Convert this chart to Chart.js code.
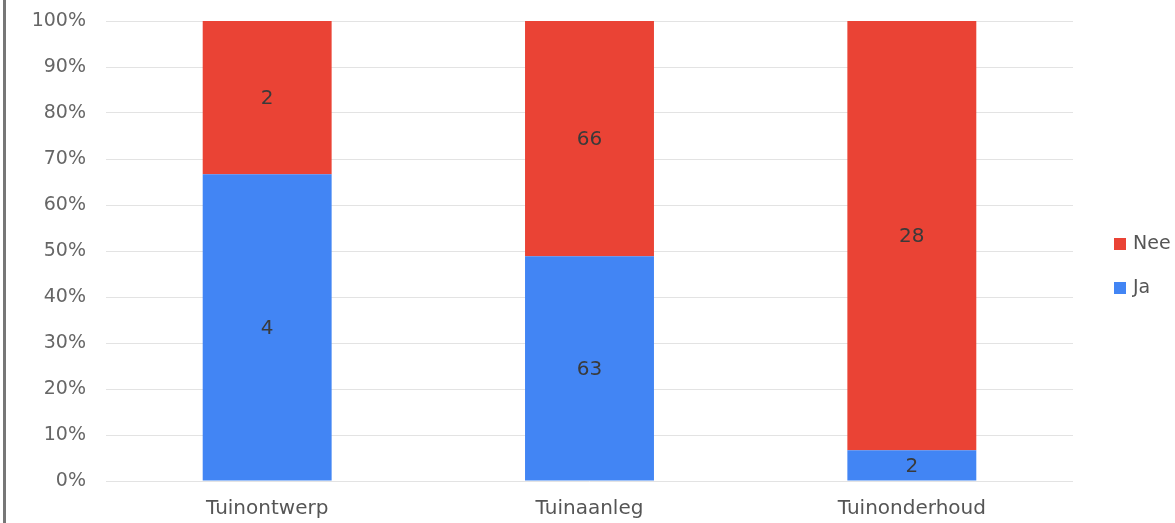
<!DOCTYPE html>
<html>
<head>
<meta charset="utf-8">
<script src="https://cdn.jsdelivr.net/npm/chart.js@4/dist/chart.umd.min.js"></script>
<style>
  html, body { margin: 0; padding: 0; background: #fff; overflow: hidden; }
  #wrap { position: relative; width: 1175px; height: 523px; }
  #edge { position: absolute; left: 3px; top: 0; width: 3px; height: 523px; background: #777; }
  canvas { position: absolute; left: 0; top: 0; }
</style>
</head>
<body>
<div id="wrap">
  <canvas id="c" width="1175" height="523"></canvas>
  <div id="edge"></div>
</div>
<script>
const categories = ["Tuinontwerp", "Tuinaanleg", "Tuinonderhoud"];
const jaCounts = [4, 63, 2];
const neeCounts = [2, 66, 28];
const seriesLabels = ["Ja", "Nee"];
const yTicks = [0, 10, 20, 30, 40, 50, 60, 70, 80, 90, 100];

const totals = categories.map((_, i) => jaCounts[i] + neeCounts[i]);
const jaPct = jaCounts.map((v, i) => v / totals[i] * 100);
const neePct = neeCounts.map((v, i) => v / totals[i] * 100);

const BLUE = '#4285F4';
const RED = '#EA4335';
const FONT = "'DejaVu Sans', sans-serif";

const valueLabels = {
  id: 'valueLabels',
  afterDatasetsDraw(chart) {
    const ctx = chart.ctx;
    ctx.save();
    ctx.font = '20px ' + FONT;
    ctx.fillStyle = '#3a3a3a';
    ctx.textAlign = 'center';
    ctx.textBaseline = 'middle';
    chart.data.datasets.forEach((ds, di) => {
      const meta = chart.getDatasetMeta(di);
      meta.data.forEach((bar, i) => {
        const top = Math.min(bar.y, bar.base), bot = Math.max(bar.y, bar.base);
        ctx.fillText(String(ds.counts[i]), bar.x, (top + bot) / 2 + 1);
      });
    });
    ctx.restore();
  }
};

const customLegend = {
  id: 'customLegend',
  afterDraw(chart) {
    const ctx = chart.ctx;
    ctx.save();
    ctx.font = '19px ' + FONT;
    ctx.textBaseline = 'middle';
    ctx.textAlign = 'left';
    const items = chart.data.datasets.slice().reverse();
    items.forEach((ds, k) => {
      const cy = 244 + k * 44;
      ctx.fillStyle = ds.backgroundColor;
      ctx.fillRect(1114, cy - 6, 12, 12);
      ctx.fillStyle = '#555';
      ctx.fillText(ds.label, 1133, cy);
    });
    ctx.restore();
  }
};

new Chart(document.getElementById('c'), {
  type: 'bar',
  data: {
    labels: categories,
    datasets: [
      { label: seriesLabels[0], data: jaPct, counts: jaCounts, backgroundColor: BLUE, borderWidth: 0 },
      { label: seriesLabels[1], data: neePct, counts: neeCounts, backgroundColor: RED, borderWidth: 0 }
    ]
  },
  options: {
    responsive: false,
    animation: false,
    events: [],
    layout: { padding: { left: 0, right: 102, top: 21, bottom: 0 } },
    plugins: { legend: { display: false }, tooltip: { enabled: false } },
    datasets: { bar: { barPercentage: 0.4, categoryPercentage: 1.0 } },
    scales: {
      x: {
        stacked: true,
        grid: { display: false, drawTicks: false },
        border: { display: false },
        ticks: { font: { family: FONT, size: 20 }, color: '#555', padding: 16 },
        afterFit(s) { s.height = 42; s.paddingLeft = 0; s.paddingRight = 0; }
      },
      y: {
        stacked: true,
        min: 0, max: 100,
        afterBuildTicks(s) { s.ticks = yTicks.map(v => ({ value: v })); },
        grid: { color: '#e3e3e3', drawTicks: false, lineWidth: 1 },
        border: { display: false },
        ticks: { font: { family: FONT, size: 19 }, color: '#666', padding: 20, callback: v => v + '%' },
        afterFit(s) { s.width = 106; s.paddingTop = 0; s.paddingBottom = 0; }
      }
    }
  },
  plugins: [valueLabels, customLegend]
});
</script>
</body>
</html>
